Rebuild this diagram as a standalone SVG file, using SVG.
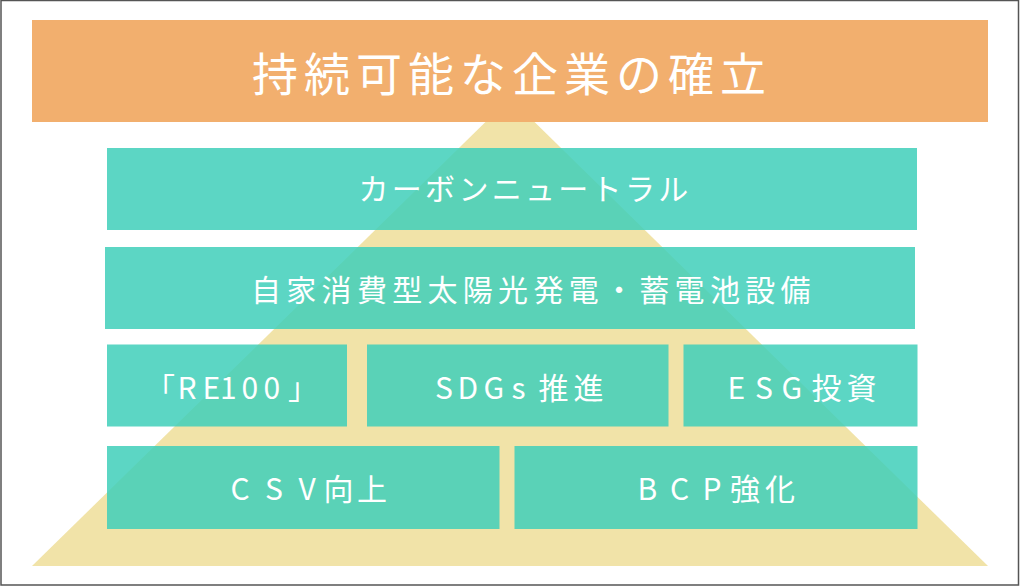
<svg xmlns="http://www.w3.org/2000/svg" width="1020" height="586" viewBox="0 0 1020 586">
<style>
.box{fill:#3fcfba;fill-opacity:0.85}
.t{fill:#ffffff;font-family:"Noto Sans CJK JP","Noto Sans",sans-serif;font-size:30px}
.title{fill:#ffffff;font-family:"Noto Sans CJK JP","Noto Sans",sans-serif;font-size:46px;letter-spacing:6px}
</style>
<rect x="1" y="0.5" width="1017.5" height="584.5" fill="#ffffff" stroke="#555555" stroke-width="1.5"/>
<g id="pyramid">
<polygon points="510,98 988,566 32,566" fill="#f1e3a8"/>
</g>
<g id="connectors"></g>
<g id="goal">
<rect x="32" y="20" width="956" height="102" fill="#f2af6e"/>
<text class="title" x="252" y="91">持続可能な企業の確立</text>
</g>
<g id="carbon-neutral">
<rect class="box" x="107" y="148" width="810" height="82"/>
<text class="t" x="358.5" y="200" letter-spacing="3.3">カーボンニュートラル</text>
</g>
<g id="solar">
<rect class="box" x="105" y="247" width="810" height="82"/>
<text class="t" x="251" y="301" letter-spacing="5.3">自家消費型太陽光発電・蓄電池設備</text>
</g>
<g id="re100">
<rect class="box" x="107" y="344.5" width="240" height="82"/>
<text class="t" x="145 177.5 202.5 220 241.5 263.5 288" y="399">「RE100」</text>
</g>
<g id="sdgs">
<rect class="box" x="367" y="344.5" width="301.5" height="82"/>
<text class="t" x="435 457.5 483.5 511.5 538.5 573.5" y="399">SDGs推進</text>
</g>
<g id="esg">
<rect class="box" x="683.5" y="344.5" width="234" height="82"/>
<text class="t" x="727.5 755 781.5 811.5 846.5" y="399">ESG投資</text>
</g>
<g id="csv">
<rect class="box" x="107" y="446" width="392.5" height="83"/>
<text class="t" x="230.5 265 298.5 323.5 357" y="500">CSV向上</text>
</g>
<g id="bcp">
<rect class="box" x="514.5" y="446" width="403" height="83"/>
<text class="t" x="637.5 670 702.5 730 765" y="500">BCP強化</text>
</g>
</svg>
